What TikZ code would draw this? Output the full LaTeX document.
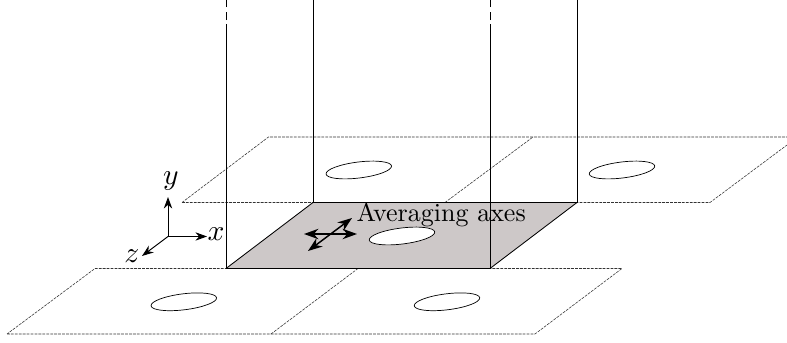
\documentclass[tikz,border=0pt]{standalone}
\usepackage{xcolor}
\usetikzlibrary{arrows.meta}
\definecolor{cellgray}{RGB}{205,200,200}
\tikzset{
  cell/.style={draw=black!80, line width=0.4pt, dash pattern=on 2pt off 0.8pt},
  wall/.style={draw=black, line width=0.6pt},
  wallcut/.style={draw=black, line width=0.6pt, dash pattern=on 0pt off 2.8pt on 5.7pt off 3.5pt on 6pt},
  hole/.style={draw=black, line width=0.5pt},
  axis/.style={-{Stealth[length=2.9mm,width=2.1mm]}, line width=0.7pt},
  avgarrow/.style={{Stealth[length=3.6mm,width=2.6mm]}-{Stealth[length=3.6mm,width=2.6mm]}, line width=1pt},
  biglabel/.style={scale=1.85, inner sep=0pt},
  axislabel/.style={scale=2.1, inner sep=0pt}
}
\begin{document}
\begin{tikzpicture}
\useasboundingbox (0,0) rectangle (19.675,8.575);
% shaded cell
\fill[cellgray] (5.65,1.8625) -- (12.25,1.8625) -- (14.425,3.5125) -- (7.825,3.5125) -- cycle;
% periodic images
\draw[cell] (4.55,3.5125) -- (17.75,3.5125) -- (19.675,4.95);
\draw[cell] (4.55,3.5125) -- (6.7125,5.15) -- (19.675,5.15);
\draw[cell] (11.125,3.5125) -- (13.325,5.15);
\draw[cell] (0.175,0.225) -- (13.375,0.225) -- (15.55,1.8625) -- (2.375,1.8625) -- cycle;
\draw[cell] (6.775,0.225) -- (8.95,1.8625);
% holes
\draw[hole] (4.595,1.03) ellipse [x radius=0.825, y radius=0.2, rotate=7];
\draw[hole] (11.175,1.03) ellipse [x radius=0.825, y radius=0.2, rotate=7];
\draw[hole] (8.97,4.325) ellipse [x radius=0.825, y radius=0.2, rotate=7];
\draw[hole] (15.55,4.325) ellipse [x radius=0.825, y radius=0.2, rotate=7];
\draw[hole, fill=white] (10.05,2.675) ellipse [x radius=0.825, y radius=0.2, rotate=7];
% box
\draw[wall] (7.825,8.575) -- (7.825,3.5125) -- (14.425,3.5125) -- (14.425,8.575);
\draw[wall] (5.65,7.975) -- (5.65,1.8625) -- (12.25,1.8625) -- (12.25,7.975);
\draw[wall] (5.65,1.8625) -- (7.825,3.5125);
\draw[wall] (12.25,1.8625) -- (14.425,3.5125);
\draw[wallcut] (5.65,7.975) -- (5.65,8.575);
\draw[wallcut] (12.25,7.975) -- (12.25,8.575);
% averaging directions
\draw[avgarrow] (7.6,2.725) -- (8.925,2.725);
\draw[avgarrow] (7.7,2.3) -- (8.8,3.125);
\node[biglabel, anchor=base west] (avglabel) at (8.9,3.025) {Averaging axes};
% axes
\coordinate (axo) at (4.2,2.6625);
\coordinate (axy) at (4.2,3.65);
\coordinate (axx) at (5.175,2.6625);
\coordinate (axz) at (3.55,2.175);
\draw[axis] (axo) -- (axy);
\draw[axis] (axo) -- (axx);
\draw[axis] (axo) -- (axz);
\node[axislabel] (ylabel) at (4.275,4.05) {$y$};
\node[axislabel] (xlabel) at (5.4,2.725) {$x$};
\node[axislabel] (zlabel) at (3.3,2.175) {$z$};
\end{tikzpicture}
\end{document}
